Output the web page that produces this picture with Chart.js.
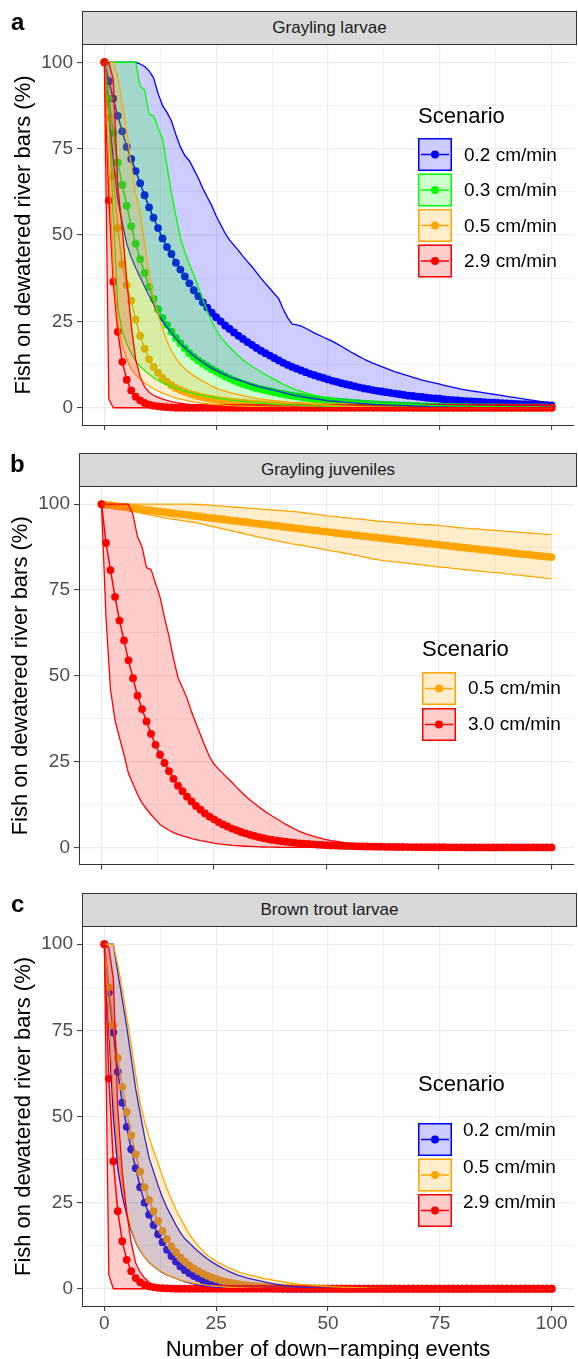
<!DOCTYPE html>
<html><head><meta charset="utf-8">
<script src="https://cdn.jsdelivr.net/npm/chart.js"></script>
<style>
html,body{margin:0;padding:0;background:#fff;width:578px;height:1359px;overflow:hidden;position:relative;}
canvas{position:absolute;left:0;display:block;}
.strip{position:absolute;box-sizing:border-box;border:1px solid #333;background:#d9d9d9;color:#1a1a1a;font:17px 'Liberation Sans',Arial,sans-serif;text-align:center;line-height:32px;}
.tag{position:absolute;font:bold 24px 'Liberation Sans',Arial,sans-serif;color:#000;line-height:24px;}
</style></head>
<body>
<canvas id="cA" width="578" height="445" style="top:0px"></canvas>
<canvas id="cB" width="578" height="435" style="top:445px"></canvas>
<canvas id="cC" width="578" height="489" style="top:880px"></canvas>
<div class="strip" style="left:82px;top:11px;width:495px;height:34px;">Grayling larvae</div>
<div class="strip" style="left:79px;top:453px;width:498px;height:34px;">Grayling juveniles</div>
<div class="strip" style="left:82px;top:893px;width:495px;height:34px;">Brown trout larvae</div>
<div class="tag" style="left:11px;top:10px;">a</div>
<div class="tag" style="left:10px;top:452px;">b</div>
<div class="tag" style="left:11px;top:892px;">c</div>
<script>
// ---------- data ----------
const events = [0,1,2,3,4,5,6,7,8,9,10,11,12,13,14,15,16,17,18,19,20,21,22,23,24,25,26,27,28,29,30,31,32,33,34,35,36,37,38,39,40,41,42,43,44,45,46,47,48,49,50,51,52,53,54,55,56,57,58,59,60,61,62,63,64,65,66,67,68,69,70,71,72,73,74,75,76,77,78,79,80,81,82,83,84,85,86,87,88,89,90,91,92,93,94,95,96,97,98,99,100];
const axisTicks = [0,12.5,25,37.5,50,62.5,75,87.5,100];

// Panel a: Grayling larvae
const aScenarios = ['0.2 cm/min','0.3 cm/min','0.5 cm/min','2.9 cm/min'];
const aBlueMean = [
100,94.5,89.5,84.5,80,75.5,72,68.5,65,61.5,
58,55,52,49,46.5,44.5,42,40,38,36,
34,32.3,30.5,29,27.5,26.2,25,23.8,22.8,21.8,
20.8,19.9,19,18.2,17.3,16.5,15.8,15.1,14.4,13.7,
13,12.4,11.8,11.3,10.8,10.3,9.8,9.4,9,8.6,
8.2,7.8,7.5,7.1,6.8,6.5,6.2,5.9,5.6,5.4,
5.1,4.9,4.7,4.5,4.3,4.1,3.9,3.7,3.5,3.4,
3.2,3.1,2.9,2.8,2.7,2.6,2.4,2.3,2.2,2.1,
2,1.9,1.8,1.75,1.7,1.6,1.5,1.45,1.4,1.3,
1.25,1.2,1.1,1.05,1,0.95,0.9,0.85,0.8,0.75,
0.7];
const aBlueHigh = [
100,100,100,100,100,100,100,100,99.5,98.8,
97.5,95.5,91,87.5,85.5,83,79,75.5,73,71.5,
69,66.5,63.5,61,58.5,55.5,53,50.5,48.5,47,
45.5,43.8,42.3,40.8,39.2,37.5,36,34.5,33,31.5,
28.5,26,24.2,24,23.6,23,22.3,21.6,21,20.4,
19.8,19.2,18.5,17.8,17,16.2,15.5,14.8,14.1,13.5,
12.9,12.4,11.9,11.4,10.9,10.4,10,9.6,9.2,8.8,
8.4,8,7.7,7.4,7.1,6.8,6.5,6.2,5.9,5.6,
5.3,5.1,4.9,4.7,4.5,4.3,4.1,3.9,3.7,3.5,
3.3,3.1,2.9,2.7,2.5,2.3,2.1,1.9,1.7,1.5,
1.3];
const aBlueLow = [
100,85,72,60,53.5,47.5,43.5,40.5,37.8,35,
32.5,30,27,25,23.3,21.5,20,18.5,17.3,16.1,
15,14,13.1,12.2,11.4,10.8,10.1,9.5,8.9,8.4,
8,7.6,7.1,6.7,6.3,5.9,5.6,5.3,5,4.7,
4.4,4,3.7,3.4,3.2,3,2.8,2.6,2.4,2.2,
2,1.9,1.8,1.7,1.6,1.5,1.4,1.3,1.2,1.1,
1,0.95,0.9,0.85,0.8,0.75,0.7,0.65,0.6,0.55,
0.5,0.45,0.42,0.4,0.38,0.36,0.34,0.32,0.3,0.28,
0.26,0.25,0.24,0.23,0.22,0.21,0.2,0.19,0.18,0.17,
0.16,0.15,0.14,0.13,0.12,0.11,0.1,0.1,0.1,0.1,
0.1];
const aGreenMean = [
100,89.5,79.5,71,64.5,58.5,52.5,47.5,43,39,
35,31.5,28.5,26,24,22,20.2,18.7,17.2,15.8,
14.7,13.7,12.8,12,11.2,10.5,9.8,9.1,8.5,7.9,
7.4,6.9,6.5,6.1,5.7,5.4,5.1,4.8,4.5,4.2,
4,3.7,3.5,3.3,3.1,2.9,2.7,2.5,2.4,2.2,
2.1,1.9,1.8,1.7,1.6,1.5,1.4,1.3,1.2,1.1,
1,0.95,0.9,0.85,0.8,0.75,0.7,0.65,0.6,0.56,
0.52,0.48,0.45,0.42,0.39,0.36,0.33,0.3,0.28,0.26,
0.24,0.22,0.2,0.19,0.18,0.17,0.16,0.15,0.14,0.13,
0.12,0.11,0.1,0.1,0.1,0.1,0.1,0.1,0.1,0.1,
0.1];
const aGreenHigh = [
100,100,100,100,100,100,100,100,93,92,
85,84.5,81,78,70,62,55.5,49,45,41.5,
38.5,35,31.5,28,25,22.5,20.5,19,17.5,16.2,
15,13.8,12.8,12,11.2,10.4,9.6,8.9,8.2,7.5,
6.8,6.2,5.6,5.1,4.7,4.3,3.9,3.6,3.3,3,
2.8,2.6,2.4,2.2,2,1.9,1.8,1.7,1.6,1.5,
1.4,1.3,1.25,1.2,1.15,1.1,1.05,1,0.95,0.9,
0.85,0.8,0.75,0.7,0.65,0.6,0.58,0.55,0.52,0.5,
0.48,0.46,0.44,0.42,0.4,0.38,0.36,0.34,0.32,0.3,
0.28,0.27,0.26,0.25,0.24,0.23,0.22,0.21,0.2,0.2,
0.2];
const aGreenLow = [
100,85,55,29,22,18.5,15.8,13.5,12,10.8,
9.7,8.7,7.9,7.2,6.6,6.1,5.6,5.2,4.8,4.4,
4.1,3.8,3.5,3.2,3,2.8,2.6,2.4,2.2,2.1,
1.9,1.8,1.7,1.5,1.4,1.3,1.2,1.1,1,0.9,
0.85,0.8,0.75,0.7,0.65,0.6,0.55,0.5,0.46,0.42,
0.38,0.35,0.32,0.29,0.26,0.24,0.22,0.2,0.18,0.16,
0.14,0.12,0.11,0.1,0.09,0.08,0.07,0.06,0.05,0.05,
0,0,0,0,0,0,0,0,0,0,
0,0,0,0,0,0,0,0,0,0,
0,0,0,0,0,0,0,0,0,0,
0];
const aOrangeMean = [
100,84,67,52,41.5,35.5,31,25.5,20.8,17.1,
14,11.8,10.1,8.6,7.5,6.5,5.7,5.1,4.6,4.1,
3.7,3.35,3.05,2.8,2.55,2.35,2.15,2,1.85,1.7,
1.55,1.45,1.35,1.25,1.15,1.05,0.95,0.9,0.8,0.75,
0.7,0.65,0.6,0.55,0.5,0.46,0.42,0.39,0.36,0.33,
0.3,0.28,0.26,0.24,0.22,0.2,0.18,0.16,0.15,0.14,
0.13,0.12,0.11,0.1,0.09,0.08,0.07,0.06,0.05,0.05,
0,0,0,0,0,0,0,0,0,0,
0,0,0,0,0,0,0,0,0,0,
0,0,0,0,0,0,0,0,0,0,
0];
const aOrangeHigh = [
100,100,100,96,88,80,70.5,62,56.5,47.5,
39,32,27,23,19.2,16.5,14.3,12.6,11.3,10.2,
9.3,8.5,7.7,7,6.3,5.7,5.2,4.8,4.4,4.1,
3.8,3.5,3.2,2.95,2.7,2.5,2.35,2.2,2.05,1.9,
1.75,1.6,1.5,1.4,1.3,1.2,1.1,1,0.9,0.8,
0.72,0.65,0.58,0.52,0.46,0.4,0.35,0.3,0.26,0.22,
0.19,0.16,0.14,0.12,0.1,0.08,0.07,0.06,0.05,0.04,
0,0,0,0,0,0,0,0,0,0,
0,0,0,0,0,0,0,0,0,0,
0,0,0,0,0,0,0,0,0,0,
0];
const aOrangeLow = [
100,70,40,25,18,14,11.3,9.5,8.2,7.1,
6.3,5.5,4.8,4.2,3.7,3.2,2.8,2.5,2.2,1.9,
1.7,1.5,1.3,1.15,1,0.9,0.8,0.7,0.6,0.55,
0.5,0.45,0.4,0.36,0.32,0.28,0.25,0.22,0.2,0.18,
0.16,0.14,0.12,0.1,0.09,0.08,0.07,0.06,0.05,0.04,
0,0,0,0,0,0,0,0,0,0,
0,0,0,0,0,0,0,0,0,0,
0,0,0,0,0,0,0,0,0,0,
0,0,0,0,0,0,0,0,0,0,
0,0,0,0,0,0,0,0,0,0,
0];
const aRedMean = [
100,60,36.5,22,13.3,8.1,5,3.2,2.1,1.4,
0.9,0.6,0.4,0.25,0.15,0.1,0,0,0,0,
0,0,0,0,0,0,0,0,0,0,
0,0,0,0,0,0,0,0,0,0,
0,0,0,0,0,0,0,0,0,0,
0,0,0,0,0,0,0,0,0,0,
0,0,0,0,0,0,0,0,0,0,
0,0,0,0,0,0,0,0,0,0,
0,0,0,0,0,0,0,0,0,0,
0,0,0,0,0,0,0,0,0,0,
0];
const aRedHigh = [
100,100,95,64,52,37,24,14,9,6,
4.5,3.6,3,2.5,2.1,1.8,1.5,1.3,1.1,0.95,
0.8,0.7,0.6,0.5,0.4,0.3,0.25,0.2,0.15,0.1,
0,0,0,0,0,0,0,0,0,0,
0,0,0,0,0,0,0,0,0,0,
0,0,0,0,0,0,0,0,0,0,
0,0,0,0,0,0,0,0,0,0,
0,0,0,0,0,0,0,0,0,0,
0,0,0,0,0,0,0,0,0,0,
0,0,0,0,0,0,0,0,0,0,
0];
const aRedLow = [
100,2.5,0,0,0,0,0,0,0,0,
0,0,0,0,0,0,0,0,0,0,
0,0,0,0,0,0,0,0,0,0,
0,0,0,0,0,0,0,0,0,0,
0,0,0,0,0,0,0,0,0,0,
0,0,0,0,0,0,0,0,0,0,
0,0,0,0,0,0,0,0,0,0,
0,0,0,0,0,0,0,0,0,0,
0,0,0,0,0,0,0,0,0,0,
0,0,0,0,0,0,0,0,0,0,
0];

// Panel b: Grayling juveniles
const bScenarios = ['0.5 cm/min','3.0 cm/min'];
const bOrangeMean = [
100,99.8,99.7,99.5,99.3,99.2,99,98.8,98.7,98.5,
98.3,98.2,98,97.8,97.7,97.5,97.3,97.2,97,96.9,
96.7,96.5,96.4,96.2,96,95.9,95.7,95.6,95.4,95.2,
95.1,94.9,94.8,94.6,94.4,94.3,94.1,94,93.8,93.7,
93.5,93.3,93.2,93,92.9,92.7,92.6,92.4,92.3,92.1,
92,91.8,91.6,91.5,91.3,91.2,91,90.9,90.7,90.6,
90.4,90.3,90.1,90,89.8,89.7,89.5,89.4,89.2,89.1,
88.9,88.8,88.6,88.5,88.3,88.2,88,87.9,87.7,87.6,
87.4,87.3,87.1,87,86.8,86.7,86.6,86.4,86.3,86.1,
86,85.8,85.7,85.5,85.4,85.3,85.1,85,84.8,84.7,
84.6];
const bOrangeHigh = [
100,100,100,100,100,100,100,100,100,100,
100,100,100,100,100,100,100,100,100,100,
100,99.9,99.9,99.8,99.7,99.6,99.5,99.4,99.3,99.2,
99.1,99,98.9,98.8,98.7,98.6,98.5,98.4,98.3,98.2,
98.1,98,97.9,97.8,97.7,97.5,97.3,97.2,97,96.8,
96.6,96.5,96.4,96.2,96.1,96,95.8,95.7,95.6,95.4,
95.3,95.1,95,94.9,94.8,94.7,94.6,94.5,94.4,94.3,
94.2,94.1,94,94,93.9,93.8,93.6,93.5,93.4,93.2,
93.1,93,92.9,92.8,92.7,92.6,92.5,92.4,92.3,92.2,
92.1,92,91.9,91.8,91.7,91.6,91.5,91.4,91.3,91.2,
91.2];
const bOrangeLow = [
100,99.7,99.4,99.1,98.8,98.5,98.2,97.9,97.6,97.3,
97,96.8,96.5,96.3,96,95.8,95.6,95.4,95.2,95,
94.8,94.6,94.3,94,93.7,93.4,93.1,92.8,92.5,92.2,
91.9,91.6,91.3,91,90.7,90.4,90.1,89.8,89.6,89.3,
89,88.8,88.5,88.3,88.1,87.9,87.6,87.4,87.2,86.9,
86.7,86.4,86.2,86,85.7,85.5,85.2,85,84.7,84.4,
84.1,83.9,83.7,83.5,83.4,83.2,83.1,82.9,82.8,82.6,
82.5,82.3,82.2,82,81.9,81.7,81.6,81.5,81.3,81.2,
81,80.9,80.8,80.6,80.5,80.4,80.2,80.1,80,79.9,
79.7,79.6,79.4,79.3,79.1,79,78.9,78.7,78.6,78.4,
78.3];
const bRedMean = [
100,88.7,80.8,73,66.1,60.3,54.5,49.3,44.2,40.3,
36.7,33.1,29.9,27,24.6,22.2,20,18,16.4,14.8,
13.4,12.1,11,9.9,9,8.2,7.4,6.7,6.1,5.5,
5,4.5,4.1,3.7,3.35,3,2.7,2.45,2.2,2,
1.8,1.65,1.5,1.35,1.2,1.1,1,0.9,0.8,0.73,
0.66,0.6,0.54,0.49,0.44,0.4,0.36,0.33,0.3,0.27,
0.24,0.22,0.2,0.18,0.16,0.14,0.13,0.12,0.11,0.1,
0.09,0.08,0.07,0.06,0.06,0.05,0.05,0.04,0.04,0.03,
0.03,0,0,0,0,0,0,0,0,0,
0,0,0,0,0,0,0,0,0,0,
0];
const bRedHigh = [
100,100,100,100,100,100,100,97,90.5,87.6,
81.5,81,77,73,67,61.5,55,49.5,46.5,43.5,
39.5,36.2,32.8,29.5,26.5,24.3,22.8,21.5,20.2,19,
17.5,16.2,15,13.8,12.8,11.8,10.8,9.9,9.1,8.3,
7.5,6.7,6,5.3,4.7,4.2,3.7,3.3,2.9,2.6,
2.3,2,1.8,1.6,1.4,1.25,1.1,1,0.9,0.8,
0.7,0.62,0.55,0.48,0.42,0.36,0.31,0.27,0.23,0.2,
0.17,0.15,0.13,0.11,0.1,0.09,0.08,0.07,0.06,0.05,
0,0,0,0,0,0,0,0,0,0,
0,0,0,0,0,0,0,0,0,0,
0];
const bRedLow = [
100,67,46,37,32,27,21.5,18.5,15.5,13,
11.2,9.6,8.1,6.7,5.8,5,4.3,3.8,3.35,3,
2.6,2.3,2,1.75,1.5,1.25,1.05,0.9,0.75,0.6,
0.5,0.42,0.35,0.28,0.22,0.17,0.13,0.1,0.07,0.05,
0.03,0,0,0,0,0,0,0,0,0,
0,0,0,0,0,0,0,0,0,0,
0,0,0,0,0,0,0,0,0,0,
0,0,0,0,0,0,0,0,0,0,
0,0,0,0,0,0,0,0,0,0,
0,0,0,0,0,0,0,0,0,0,
0];

// Panel c: Brown trout larvae
const cScenarios = ['0.2 cm/min','0.5 cm/min','2.9 cm/min'];
const cBlueMean = [
100,86,74.4,63,54,47,40.5,35,29.5,25,
21.5,18.5,15.8,13.5,11.3,9.5,7.9,6.5,5.4,4.5,
3.7,3.1,2.5,2.1,1.7,1.4,1.15,0.95,0.78,0.64,
0.52,0.43,0.35,0.29,0.24,0.2,0.16,0.13,0.11,0.09,
0.07,0,0,0,0,0,0,0,0,0,
0,0,0,0,0,0,0,0,0,0,
0,0,0,0,0,0,0,0,0,0,
0,0,0,0,0,0,0,0,0,0,
0,0,0,0,0,0,0,0,0,0,
0,0,0,0,0,0,0,0,0,0,
0];
const cBlueHigh = [
100,100,100,92,84,76,67,58,51,44,
38,34,30,26.5,23.5,21,18.5,16.3,14.5,13.3,
12,10.8,9.7,8.7,7.8,7,6.3,5.6,5,4.4,
3.9,3.5,3.1,2.8,2.5,2.2,1.9,1.65,1.4,1.2,
1,0.85,0.7,0.58,0.48,0.4,0.33,0.27,0.22,0.18,
0.15,0.12,0.1,0.08,0.06,0.05,0.04,0.03,0.02,0.01,
0,0,0,0,0,0,0,0,0,0,
0,0,0,0,0,0,0,0,0,0,
0,0,0,0,0,0,0,0,0,0,
0,0,0,0,0,0,0,0,0,0,
0];
const cBlueLow = [
100,75,50,35,27,21.5,17,13.5,11,9.2,
7.7,6.5,5.5,4.7,4,3.5,3,2.5,2.1,1.7,
1.4,1.15,0.95,0.75,0.6,0.45,0.35,0.27,0.2,0.15,
0.1,0.07,0.05,0,0,0,0,0,0,0,
0,0,0,0,0,0,0,0,0,0,
0,0,0,0,0,0,0,0,0,0,
0,0,0,0,0,0,0,0,0,0,
0,0,0,0,0,0,0,0,0,0,
0,0,0,0,0,0,0,0,0,0,
0,0,0,0,0,0,0,0,0,0,
0];
const cOrangeMean = [
100,87.5,76.5,67,58.6,51.3,44.5,39,34,29.5,
25.8,22.5,19.6,16.8,14.4,12.3,10.6,9.1,7.9,6.8,
5.9,5.1,4.4,3.8,3.3,2.85,2.45,2.1,1.8,1.55,
1.35,1.15,1,0.86,0.74,0.64,0.55,0.47,0.4,0.35,
0.3,0.26,0.22,0.19,0.16,0.14,0.12,0.1,0.09,0.08,
0.07,0,0,0,0,0,0,0,0,0,
0,0,0,0,0,0,0,0,0,0,
0,0,0,0,0,0,0,0,0,0,
0,0,0,0,0,0,0,0,0,0,
0,0,0,0,0,0,0,0,0,0,
0];
const cOrangeHigh = [
100,100,100,94,87,79,71,62,54,48.5,
44,40,36.5,32.5,29,26,23,20.5,18.2,15.8,
14,12.5,11,9.8,8.8,8,7.3,6.6,6,5.4,
4.9,4.5,4.1,3.8,3.5,3.2,2.9,2.7,2.45,2.2,
2,1.8,1.6,1.45,1.3,1.2,1.1,1,0.9,0.8,
0.7,0.62,0.55,0.48,0.42,0.37,0.32,0.28,0.24,0.2,
0.17,0.14,0.12,0.1,0.08,0.06,0.05,0.04,0.03,0.02,
0.01,0,0,0,0,0,0,0,0,0,
0,0,0,0,0,0,0,0,0,0,
0,0,0,0,0,0,0,0,0,0,
0];
const cOrangeLow = [
100,78,56,40,30,23,17.5,13.8,11.2,9.3,
7.8,6.6,5.6,4.8,4.1,3.5,3,2.6,2.2,1.9,
1.6,1.4,1.2,1,0.85,0.7,0.6,0.5,0.4,0.33,
0.27,0.22,0.18,0.14,0.11,0.08,0.06,0.04,0.02,0,
0,0,0,0,0,0,0,0,0,0,
0,0,0,0,0,0,0,0,0,0,
0,0,0,0,0,0,0,0,0,0,
0,0,0,0,0,0,0,0,0,0,
0,0,0,0,0,0,0,0,0,0,
0,0,0,0,0,0,0,0,0,0,
0];
const cRedMean = [
100,61,37,22.5,13.8,8.4,5.1,3.1,1.9,1.2,
0.7,0.45,0.27,0.16,0.1,0.06,0,0,0,0,
0,0,0,0,0,0,0,0,0,0,
0,0,0,0,0,0,0,0,0,0,
0,0,0,0,0,0,0,0,0,0,
0,0,0,0,0,0,0,0,0,0,
0,0,0,0,0,0,0,0,0,0,
0,0,0,0,0,0,0,0,0,0,
0,0,0,0,0,0,0,0,0,0,
0,0,0,0,0,0,0,0,0,0,
0];
const cRedHigh = [
100,99,90,52,34,22,13.5,7.5,4.8,3.1,
1.9,1.1,0.5,0.1,0,0,0,0,0,0,
0,0,0,0,0,0,0,0,0,0,
0,0,0,0,0,0,0,0,0,0,
0,0,0,0,0,0,0,0,0,0,
0,0,0,0,0,0,0,0,0,0,
0,0,0,0,0,0,0,0,0,0,
0,0,0,0,0,0,0,0,0,0,
0,0,0,0,0,0,0,0,0,0,
0,0,0,0,0,0,0,0,0,0,
0];
const cRedLow = [
100,4,0,0,0,0,0,0,0,0,
0,0,0,0,0,0,0,0,0,0,
0,0,0,0,0,0,0,0,0,0,
0,0,0,0,0,0,0,0,0,0,
0,0,0,0,0,0,0,0,0,0,
0,0,0,0,0,0,0,0,0,0,
0,0,0,0,0,0,0,0,0,0,
0,0,0,0,0,0,0,0,0,0,
0,0,0,0,0,0,0,0,0,0,
0,0,0,0,0,0,0,0,0,0,
0];

// ---------- styling ----------
const FONT = "'Liberation Sans', Arial, Helvetica, sans-serif";
Chart.defaults.font.family = FONT;
const COL = {blue:'#0000FF', green:'#00FF00', orange:'#FFA500', red:'#FF0000'};
const FILL = {blue:'rgba(0,0,255,0.2)', green:'rgba(0,255,0,0.2)', orange:'rgba(255,165,0,0.2)', red:'rgba(255,0,0,0.2)'};

const checks = {aBlueMean,aBlueHigh,aBlueLow,aGreenMean,aGreenHigh,aGreenLow,aOrangeMean,aOrangeHigh,aOrangeLow,aRedMean,aRedHigh,aRedLow,
  bOrangeMean,bOrangeHigh,bOrangeLow,bRedMean,bRedHigh,bRedLow,cBlueMean,cBlueHigh,cBlueLow,cOrangeMean,cOrangeHigh,cOrangeLow,cRedMean,cRedHigh,cRedLow};
for (const k in checks) { if (checks[k].length !== events.length) throw new Error(k + ' has ' + checks[k].length); }

function buildDatasets(list) {
  const n = list.length, ds = [];
  list.forEach((s, i) => ds.push({
    label: s.label, data: s.mean, borderColor: s.color, backgroundColor: s.color,
    borderWidth: 1.5, pointRadius: 3.9, pointBackgroundColor: s.color, pointBorderColor: s.color,
    pointBorderWidth: 0, fill: false, tension: 0, order: 100 - i
  }));
  list.forEach((s, k) => {
    const lo = n + 2 * k + 1;
    ds.push({ label: s.label + ' upper', data: s.hi, borderColor: s.color, backgroundColor: s.fill, borderWidth: 1.3,
      pointRadius: 0, tension: 0, fill: {target: lo, above: s.fill, below: s.fill}, order: 50 - 2 * k });
    ds.push({ label: s.label + ' lower', data: s.lo, borderColor: s.color, borderWidth: 1.3,
      pointRadius: 0, tension: 0, fill: false, order: 49 - 2 * k });
  });
  return ds;
}

const scenarioLegend = {
  id: 'scenarioLegend',
  afterDraw(chart, args, o) {
    const ctx = chart.ctx;
    ctx.save();
    ctx.textAlign = 'left'; ctx.textBaseline = 'middle';
    ctx.font = '22px ' + FONT; ctx.fillStyle = '#000';
    ctx.fillText('Scenario', o.x, o.titleY);
    const w = 34, h = 33;
    for (let i = 0; i < o.items.length; i++) {
      const it = o.items[i], top = o.keyTops[i], x = o.x, cy = top + h / 2;
      ctx.fillStyle = '#fff'; ctx.fillRect(x, top, w, h);
      ctx.fillStyle = it.fill; ctx.fillRect(x, top, w, h);
      ctx.strokeStyle = it.color; ctx.lineWidth = 1.5;
      ctx.strokeRect(x + 0.75, top + 0.75, w - 1.5, h - 1.5);
      ctx.beginPath(); ctx.moveTo(x + 3, cy); ctx.lineTo(x + w - 3, cy); ctx.stroke();
      ctx.beginPath(); ctx.arc(x + w / 2, cy, 4, 0, Math.PI * 2); ctx.fillStyle = it.color; ctx.fill();
      ctx.font = '19px ' + FONT; ctx.fillStyle = '#000';
      ctx.fillText(it.label, o.labelX, o.labelYs[i]);
    }
    ctx.restore();
  }
};

const isMajor = v => Math.abs(v % 25) < 1e-9;

function makeChart(id, list, L) {
  return new Chart(document.getElementById(id), {
    type: 'line',
    data: { labels: events, datasets: buildDatasets(list) },
    options: {
      responsive: false, animation: false, events: [],
      layout: { padding: { top: L.padTop, right: 1, bottom: 0, left: 0 } },
      plugins: {
        legend: { display: false }, tooltip: { enabled: false },
        filler: { propagate: false, drawTime: 'beforeDatasetDraw' },
        scenarioLegend: {
          x: L.legX, titleY: L.titleY, keyTops: L.keyTops, labelX: L.labelX, labelYs: L.labelYs,
          items: list.map(s => ({label: s.label, color: s.color, fill: s.fill}))
        }
      },
      scales: {
        x: {
          type: 'linear', min: -5, max: 105,
          afterBuildTicks: s => { s.ticks = axisTicks.map(v => ({value: v})); },
          afterFit: s => { s.height = L.xHeight; },
          grid: { color: '#ebebeb', lineWidth: c => isMajor(c.tick.value) ? 1.2 : 0.7,
                  tickColor: c => isMajor(c.tick.value) ? '#333333' : 'rgba(0,0,0,0)', tickLength: 5, tickWidth: 1 },
          border: { display: true, color: '#333333', width: 1 },
          ticks: { autoSkip: false, maxRotation: 0, minRotation: 0, padding: 1, color: '#4d4d4d', font: { size: 19 },
                   callback: v => (L.xLabels && isMajor(v)) ? String(v) : '' },
          title: { display: !!L.xTitle, text: L.xTitle || '', color: '#000', font: { size: 22, lineHeight: 1.2 }, padding: { top: 0, bottom: L.xTitlePad || 0 } }
        },
        y: {
          type: 'linear', min: -5, max: 105,
          afterBuildTicks: s => { s.ticks = axisTicks.map(v => ({value: v})); },
          afterFit: s => { s.width = L.yWidth; },
          grid: { color: '#ebebeb', lineWidth: c => isMajor(c.tick.value) ? 1.2 : 0.7,
                  tickColor: c => isMajor(c.tick.value) ? '#333333' : 'rgba(0,0,0,0)', tickLength: 5, tickWidth: 1 },
          border: { display: true, color: '#333333', width: 1 },
          ticks: { autoSkip: false, padding: 4, color: '#4d4d4d', font: { size: 19 },
                   callback: v => isMajor(v) ? String(v) : '' },
          title: { display: true, text: 'Fish on dewatered river bars (%)', color: '#000', font: { size: 22, lineHeight: 1.2 }, padding: { top: L.yTitlePad, bottom: 0 } }
        }
      }
    },
    plugins: [scenarioLegend]
  });
}

makeChart('cA', [
  {label: aScenarios[0], color: COL.blue, fill: FILL.blue, mean: aBlueMean, hi: aBlueHigh, lo: aBlueLow},
  {label: aScenarios[1], color: COL.green, fill: FILL.green, mean: aGreenMean, hi: aGreenHigh, lo: aGreenLow},
  {label: aScenarios[2], color: COL.orange, fill: FILL.orange, mean: aOrangeMean, hi: aOrangeHigh, lo: aOrangeLow},
  {label: aScenarios[3], color: COL.red, fill: FILL.red, mean: aRedMean, hi: aRedHigh, lo: aRedLow}
], { padTop: 45, xHeight: 20, yWidth: 82, yTitlePad: 11, xLabels: false,
     legX: 418, titleY: 117, keyTops: [138, 173.5, 209, 244.5], labelX: 464, labelYs: [155.5, 191, 226.5, 262] });

makeChart('cB', [
  {label: bScenarios[0], color: COL.orange, fill: FILL.orange, mean: bOrangeMean, hi: bOrangeHigh, lo: bOrangeLow},
  {label: bScenarios[1], color: COL.red, fill: FILL.red, mean: bRedMean, hi: bRedHigh, lo: bRedLow}
], { padTop: 42, xHeight: 14, yWidth: 79, yTitlePad: 8, xLabels: false,
     legX: 422, titleY: 205, keyTops: [227, 263], labelX: 468, labelYs: [244, 280] });

makeChart('cC', [
  {label: cScenarios[0], color: COL.blue, fill: FILL.blue, mean: cBlueMean, hi: cBlueHigh, lo: cBlueLow},
  {label: cScenarios[1], color: COL.orange, fill: FILL.orange, mean: cOrangeMean, hi: cOrangeHigh, lo: cOrangeLow},
  {label: cScenarios[2], color: COL.red, fill: FILL.red, mean: cRedMean, hi: cRedHigh, lo: cRedLow}
], { padTop: 47, xHeight: 63, yWidth: 82, yTitlePad: 11, xLabels: true,
     xTitle: 'Number of down\u2212ramping events', xTitlePad: 6,
     legX: 418, titleY: 205, keyTops: [243, 278.5, 314], labelX: 463, labelYs: [251, 288, 323] });
</script>
</body></html>
